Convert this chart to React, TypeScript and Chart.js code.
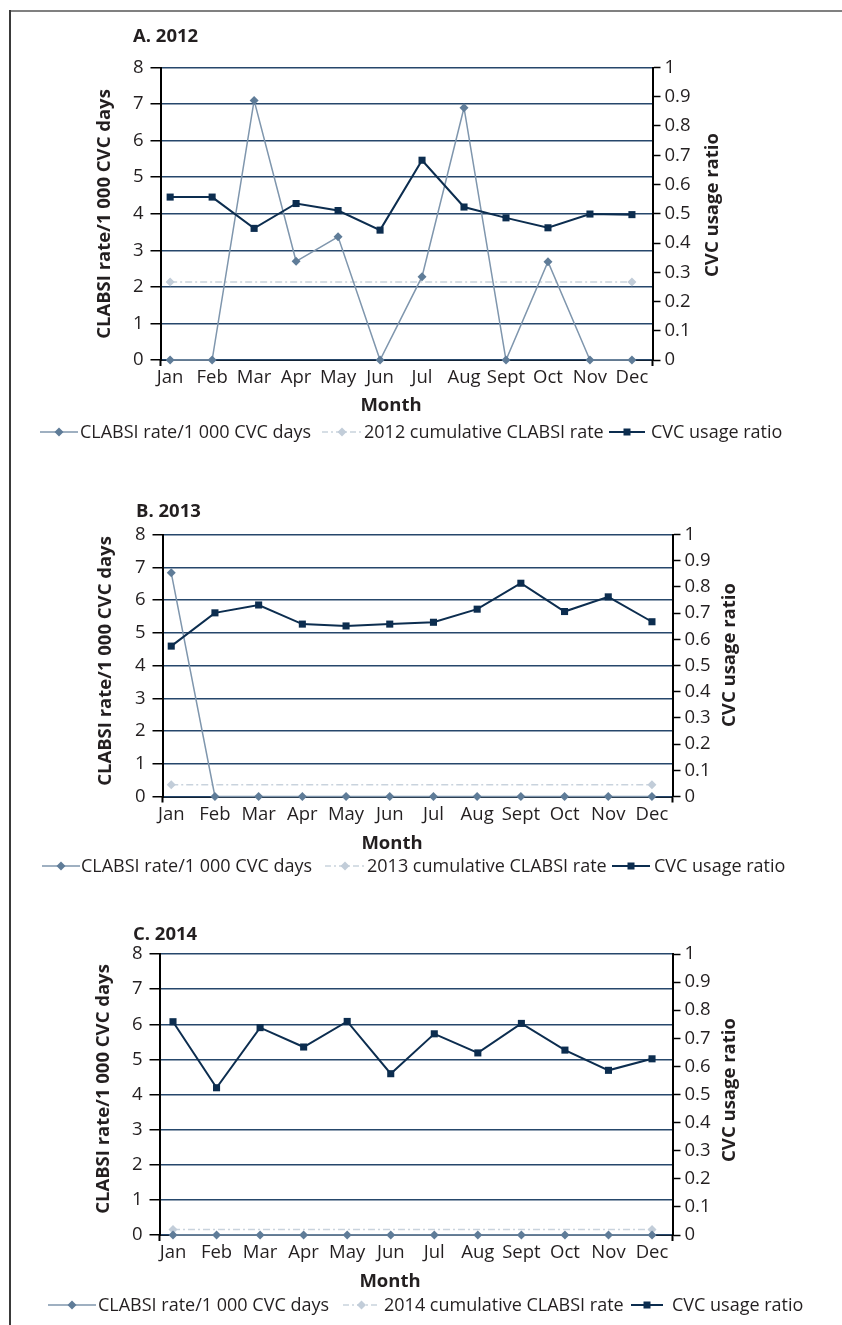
import React, { useEffect, useRef } from 'react';
import { Chart, registerables } from 'chart.js';

Chart.register(...registerables);

// ---------- data ----------
const months = ['Jan', 'Feb', 'Mar', 'Apr', 'May', 'Jun', 'Jul', 'Aug', 'Sept', 'Oct', 'Nov', 'Dec'];
const rateTicks = [0, 1, 2, 3, 4, 5, 6, 7, 8];
const ratioTicks = [0, 0.1, 0.2, 0.3, 0.4, 0.5, 0.6, 0.7, 0.8, 0.9, 1];

const rate2012 = [0, 0, 7.1, 2.7, 3.37, 0, 2.28, 6.9, 0, 2.69, 0, 0];
const cumulative2012 = [2.13, null, null, null, null, null, null, null, null, null, null, 2.13];
const ratio2012 = [0.557, 0.557, 0.45, 0.535, 0.511, 0.444, 0.683, 0.523, 0.486, 0.452, 0.499, 0.497];

const rate2013 = [6.83, 0, 0, 0, 0, 0, 0, 0, 0, 0, 0, 0];
const cumulative2013 = [0.36, null, null, null, null, null, null, null, null, null, null, 0.36];
const ratio2013 = [0.574, 0.701, 0.731, 0.658, 0.651, 0.658, 0.665, 0.715, 0.814, 0.706, 0.762, 0.667];

const rate2014 = [0, 0, 0, 0, 0, 0, 0, 0, 0, 0, 0, 0];
const cumulative2014 = [0.16, null, null, null, null, null, null, null, null, null, null, 0.16];
const ratio2014 = [0.759, 0.524, 0.738, 0.669, 0.76, 0.574, 0.716, 0.648, 0.753, 0.658, 0.586, 0.627];

const seriesNames = ['CLABSI rate/1 000 CVC days', 'cumulative CLABSI rate', 'CVC usage ratio'];
const leftAxisTitle = 'CLABSI rate/1 000 CVC days';
const rightAxisTitle = 'CVC usage ratio';
const xAxisTitle = 'Month';

// ---------- styles ----------
const FONT = "'Open Sans', 'DejaVu Sans', sans-serif";
const TICK_SIZE = 18.5;
const LEGEND_SIZE = 18;
const TITLE_SIZE = 18.5;
const COLORS = {
  rate: '#7f96ad',
  rateMarker: '#5f7c98',
  cum: '#c9d3dd',
  cumMarker: '#c2cdd9',
  ratio: '#0c2d4f',
  grid: '#26476b',
  text: '#231f20',
};

type LegendItem = { lineFrom: number; lineTo: number; textX: number };
type Panel = {
  title: string;
  year: string;
  rate: number[];
  cum: (number | null)[];
  ratio: number[];
  top: number;
  height: number;
  plot: { left: number; right: number; top: number; bottom: number };
  xMin: number;
  xMax: number;
  titleX: number;
  titleY: number;
  leftTitleX: number;
  leftTitleY: number;
  rightTitleX: number;
  rightTitleY: number;
  monthX: number;
  monthY: number;
  legendY: number;
  legend: LegendItem[];
};

const panels: Panel[] = [
  {
    title: 'A. 2012', year: '2012', rate: rate2012, cum: cumulative2012, ratio: ratio2012,
    top: 15, height: 450,
    plot: { left: 160.5, right: 652.5, top: 67.5, bottom: 360 },
    xMin: -0.23, xMax: 11.49,
    titleX: 133, titleY: 42,
    leftTitleX: 105, leftTitleY: 214,
    rightTitleX: 713, rightTitleY: 205,
    monthX: 391, monthY: 411,
    legendY: 432,
    legend: [
      { lineFrom: 40, lineTo: 78, textX: 80 },
      { lineFrom: 322, lineTo: 362, textX: 364 },
      { lineFrom: 609, lineTo: 645, textX: 651 },
    ],
  },
  {
    title: 'B. 2013', year: '2013', rate: rate2013, cum: cumulative2013, ratio: ratio2013,
    top: 488, height: 397,
    plot: { left: 162.5, right: 672.5, top: 534.5, bottom: 796.5 },
    xMin: -0.2, xMax: 11.47,
    titleX: 136, titleY: 517,
    leftTitleX: 106, leftTitleY: 661,
    rightTitleX: 730, rightTitleY: 655,
    monthX: 392, monthY: 849,
    legendY: 866,
    legend: [
      { lineFrom: 42, lineTo: 80, textX: 81 },
      { lineFrom: 325, lineTo: 365, textX: 367 },
      { lineFrom: 612, lineTo: 650, textX: 654 },
    ],
  },
  {
    title: 'C. 2014', year: '2014', rate: rate2014, cum: cumulative2014, ratio: ratio2014,
    top: 915, height: 410,
    plot: { left: 159.5, right: 672.5, top: 954, bottom: 1235 },
    xMin: -0.31, xMax: 11.47,
    titleX: 133, titleY: 940,
    leftTitleX: 104, leftTitleY: 1089,
    rightTitleX: 730, rightTitleY: 1090,
    monthX: 390, monthY: 1287,
    legendY: 1305,
    legend: [
      { lineFrom: 48, lineTo: 96, textX: 98 },
      { lineFrom: 343, lineTo: 380, textX: 384 },
      { lineFrom: 631, lineTo: 663, textX: 672 },
    ],
  },
];

function drawDiamond(ctx: CanvasRenderingContext2D, x: number, y: number, r: number, color: string) {
  ctx.beginPath();
  ctx.moveTo(x, y - r);
  ctx.lineTo(x + r, y);
  ctx.lineTo(x, y + r);
  ctx.lineTo(x - r, y);
  ctx.closePath();
  ctx.fillStyle = color;
  ctx.fill();
}

function makeDecorPlugin(panel: Panel) {
  return {
    id: 'decor' + panel.year,
    afterDraw(chart: any) {
      const ctx: CanvasRenderingContext2D = chart.ctx;
      const off = panel.top;
      ctx.save();
      ctx.fillStyle = COLORS.text;
      // panel title
      ctx.font = `bold ${TITLE_SIZE}px ${FONT}`;
      ctx.textAlign = 'left';
      ctx.textBaseline = 'alphabetic';
      ctx.fillText(panel.title, panel.titleX, panel.titleY - off);
      // x axis title
      ctx.textAlign = 'center';
      ctx.fillText(xAxisTitle, panel.monthX, panel.monthY - off);
      // left axis title
      ctx.save();
      ctx.translate(panel.leftTitleX, panel.leftTitleY - off);
      ctx.rotate(-Math.PI / 2);
      ctx.textBaseline = 'middle';
      ctx.fillText(leftAxisTitle, 0, 0);
      ctx.restore();
      // right axis title
      ctx.save();
      ctx.translate(panel.rightTitleX, panel.rightTitleY - off);
      ctx.rotate(-Math.PI / 2);
      ctx.textBaseline = 'middle';
      ctx.fillText(rightAxisTitle, 0, 0);
      ctx.restore();

      // axis stubs below the x axis
      const ca = chart.chartArea;
      ctx.strokeStyle = '#000';
      ctx.lineWidth = 2;
      ctx.beginPath();
      ctx.moveTo(ca.left, ca.bottom);
      ctx.lineTo(ca.left, ca.bottom + 6);
      ctx.moveTo(ca.right, ca.bottom);
      ctx.lineTo(ca.right, ca.bottom + 6);
      ctx.stroke();

      // legend
      const ly = panel.legendY - off;
      const labels = [seriesNames[0], `${panel.year} ${seriesNames[1]}`, seriesNames[2]];
      panel.legend.forEach((item, i) => {
        const mid = (item.lineFrom + item.lineTo) / 2;
        ctx.save();
        ctx.beginPath();
        ctx.moveTo(item.lineFrom, ly);
        ctx.lineTo(item.lineTo, ly);
        if (i === 0) {
          ctx.strokeStyle = COLORS.rate;
          ctx.lineWidth = 1.5;
        } else if (i === 1) {
          ctx.strokeStyle = COLORS.cum;
          ctx.lineWidth = 1.5;
          ctx.setLineDash([6, 3, 2, 3]);
        } else {
          ctx.strokeStyle = COLORS.ratio;
          ctx.lineWidth = 2;
        }
        ctx.stroke();
        ctx.setLineDash([]);
        if (i === 0) drawDiamond(ctx, mid, ly, 4.5, COLORS.rateMarker);
        else if (i === 1) drawDiamond(ctx, mid, ly, 4.5, COLORS.cumMarker);
        else {
          ctx.fillStyle = COLORS.ratio;
          ctx.fillRect(mid - 3.5, ly - 3.5, 7, 7);
        }
        ctx.restore();
        ctx.fillStyle = COLORS.text;
        ctx.font = `${LEGEND_SIZE}px ${FONT}`;
        ctx.textAlign = 'left';
        ctx.textBaseline = 'middle';
        ctx.fillText(labels[i], item.textX, ly + 1);
      });
      ctx.restore();
    },
  };
}

function PanelChart({ panel }: { panel: Panel }) {
  const ref = useRef<HTMLCanvasElement>(null);
  useEffect(() => {
    const canvas = ref.current;
    if (!canvas) return;
    const plot = panel.plot;
    const xAxisHeight = panel.top + panel.height - plot.bottom;
    const toPoints = (arr: (number | null)[]) => arr.map((v, i) => ({ x: i, y: v }));
    const chart = new Chart(canvas, {
      type: 'line',
      data: {
        datasets: [
          {
            label: `${panel.year} ${seriesNames[1]}`,
            data: toPoints(panel.cum) as any,
            yAxisID: 'y',
            borderColor: COLORS.cum,
            borderWidth: 1.5,
            borderDash: [7, 3, 2, 3],
            spanGaps: true,
            pointStyle: 'rectRot',
            pointRadius: 4.5,
            pointBorderWidth: 0,
            pointBackgroundColor: COLORS.cumMarker,
            clip: false,
            order: 3,
          },
          {
            label: seriesNames[0],
            data: toPoints(panel.rate) as any,
            yAxisID: 'y',
            borderColor: COLORS.rate,
            borderWidth: 1.5,
            pointStyle: 'rectRot',
            pointRadius: 4.5,
            pointBorderWidth: 0,
            pointBackgroundColor: COLORS.rateMarker,
            clip: false,
            order: 2,
          },
          {
            label: seriesNames[2],
            data: toPoints(panel.ratio) as any,
            yAxisID: 'y1',
            borderColor: COLORS.ratio,
            borderWidth: 2,
            pointStyle: 'rect',
            pointRadius: 5,
            pointBorderWidth: 0,
            pointBackgroundColor: COLORS.ratio,
            clip: false,
            order: 1,
          },
        ],
      },
      options: {
        responsive: false,
        animation: false,
        devicePixelRatio: 1,
        layout: { padding: { top: plot.top - panel.top, left: 0, right: 0, bottom: 0 } },
        plugins: {
          legend: { display: false },
          title: { display: false },
          tooltip: { enabled: false },
        },
        elements: { line: { tension: 0 } },
        scales: {
          x: {
            type: 'linear',
            position: 'bottom',
            min: panel.xMin,
            max: panel.xMax,
            grid: { display: false, drawTicks: false },
            border: { display: true, color: '#000', width: 2, z: -1 },
            ticks: {
              autoSkip: false,
              maxRotation: 0,
              padding: 7,
              color: COLORS.text,
              font: { family: FONT, size: TICK_SIZE },
              callback: (v: any) => months[Math.round(Number(v))] ?? '',
            },
            afterBuildTicks: (s: any) => {
              s.ticks = months.map((_, i) => ({ value: i }));
            },
            afterFit: (s: any) => {
              s.height = xAxisHeight;
            },
          },
          y: {
            type: 'linear',
            position: 'left',
            min: 0,
            max: 8,
            grid: { color: COLORS.grid, lineWidth: 1.5, tickColor: '#000', tickLength: 10, tickWidth: 1.5 },
            border: { display: true, color: '#000', width: 2 },
            ticks: {
              padding: 7,
              color: COLORS.text,
              font: { family: FONT, size: TICK_SIZE },
              callback: (v: any) => String(v),
            },
            afterBuildTicks: (s: any) => {
              s.ticks = rateTicks.map((v) => ({ value: v }));
            },
            afterFit: (s: any) => {
              s.width = plot.left;
            },
          },
          y1: {
            type: 'linear',
            position: 'right',
            min: 0,
            max: 1,
            grid: { drawOnChartArea: false, tickColor: '#000', tickLength: 8, tickWidth: 1.5 },
            border: { display: true, color: '#000', width: 2 },
            ticks: {
              padding: 4,
              color: COLORS.text,
              font: { family: FONT, size: TICK_SIZE },
              callback: (v: any) => String(Math.round(Number(v) * 10) / 10),
            },
            afterBuildTicks: (s: any) => {
              s.ticks = ratioTicks.map((v) => ({ value: v }));
            },
            afterFit: (s: any) => {
              s.width = 842 - plot.right;
            },
          },
        },
      },
      plugins: [makeDecorPlugin(panel)],
    } as any);
    return () => chart.destroy();
  }, [panel]);
  return (
    <canvas
      ref={ref}
      width={842}
      height={panel.height}
      style={{ position: 'absolute', left: 0, top: panel.top, width: 842, height: panel.height, display: 'block' }}
    />
  );
}

export default function App() {
  return (
    <div
      style={{
        position: 'absolute',
        left: 0,
        top: 0,
        width: 842,
        height: 1325,
        overflow: 'hidden',
        background: '#fff',
      }}
    >
      <div style={{ position: 'absolute', left: 9, top: 10, width: 833, height: 2, background: '#808080' }} />
      <div style={{ position: 'absolute', left: 9, top: 10, width: 2, height: 1315, background: '#3a3a3a' }} />
      {panels.map((p) => (
        <PanelChart key={p.year} panel={p} />
      ))}
    </div>
  );
}
